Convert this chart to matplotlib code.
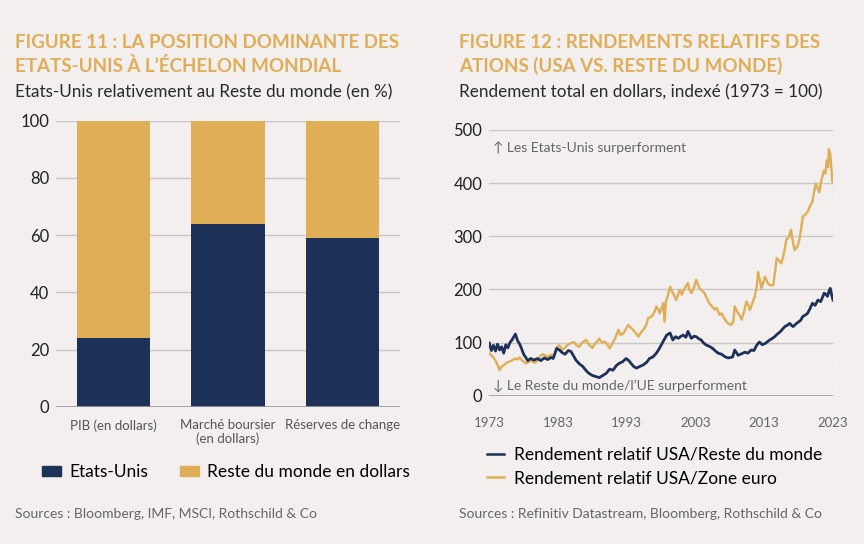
import matplotlib
matplotlib.use("Agg")
import matplotlib.pyplot as plt
from matplotlib.patches import Patch
from matplotlib.lines import Line2D

plt.rcParams['font.family'] = ['Lato', 'DejaVu Sans']

BG = '#F2EFEE'
NAVY = '#1E3159'
GOLD = '#DFAE57'
GRID = '#C9C6C5'

# Figure 11 data
categories = ['PIB (en dollars)', 'Marché boursier\n(en dollars)', 'Réserves de change']
usa_share = [24, 64, 59]
rest_share = [76, 36, 41]

# Figure 12 data
years_world = [1973.0, 1973.3, 1973.6, 1973.9, 1974.2, 1974.5, 1974.8, 1975.1, 1975.4, 1975.7,
               1976.0, 1976.3, 1976.8, 1977.1, 1977.5, 1978.0, 1978.6, 1979.0, 1979.5, 1980.0,
               1980.5, 1981.0, 1981.5, 1982.0, 1982.3, 1982.8, 1983.2, 1983.6, 1984.0, 1984.5,
               1984.9, 1985.3, 1985.6, 1986.1, 1986.6, 1987.1, 1987.5, 1988.0, 1988.5, 1989.0,
               1989.5, 1990.0, 1990.5, 1991.0, 1991.5, 1991.9, 1992.4, 1992.9, 1993.3, 1993.6,
               1994.0, 1994.4, 1994.9, 1995.4, 1995.9, 1996.3, 1996.8, 1997.3, 1997.7, 1998.0,
               1998.4, 1998.8, 1999.3, 1999.7, 2000.1, 2000.5, 2000.9, 2001.2, 2001.6, 2001.9,
               2002.4, 2002.8, 2003.1, 2003.5, 2003.8, 2004.2, 2004.6, 2005.0, 2005.5, 2005.9,
               2006.3, 2006.8, 2007.2, 2007.7, 2008.1, 2008.4, 2008.7, 2009.0, 2009.2, 2009.7,
               2010.2, 2010.6, 2011.1, 2011.5, 2011.9, 2012.3, 2012.7, 2013.1, 2013.5, 2013.8,
               2014.2, 2014.5, 2014.9, 2015.3, 2015.7, 2016.0, 2016.4, 2016.7, 2017.0, 2017.2,
               2017.6, 2018.0, 2018.3, 2018.6, 2019.0, 2019.3, 2019.7, 2020.0, 2020.4, 2020.8,
               2021.2, 2021.5, 2021.7, 2022.0, 2022.2, 2022.4, 2022.6, 2022.8, 2023.0]
usa_vs_world = [99, 85, 95, 84, 97, 86, 92, 80, 96, 90,
                100, 105, 116, 104, 95, 78, 66, 70, 67, 70,
                66, 71, 68, 72, 70, 89, 86, 81, 78, 85,
                83, 74, 67, 60, 55, 47, 42, 38, 36, 34,
                38, 42, 50, 48, 57, 61, 64, 70, 66, 61,
                55, 52, 55, 58, 63, 70, 73, 80, 88, 95,
                104, 114, 118, 105, 111, 108, 112, 114, 110, 121,
                108, 112, 111, 107, 105, 99, 95, 93, 89, 84,
                80, 78, 74, 71, 72, 73, 86, 80, 76, 79,
                82, 80, 86, 85, 95, 101, 96, 98, 102, 105,
                108, 111, 116, 120, 126, 130, 133, 136, 132, 130,
                135, 139, 142, 149, 152, 155, 165, 174, 170, 180,
                177, 186, 193, 190, 187, 196, 202, 190, 180]

years_euro = [1973.0, 1973.3, 1973.6, 1973.9, 1974.2, 1974.5, 1974.8, 1975.2, 1975.5, 1975.9,
              1976.4, 1976.8, 1977.1, 1977.4, 1977.8, 1978.3, 1978.7, 1979.0, 1979.3, 1979.7,
              1980.2, 1980.5, 1980.8, 1981.2, 1981.5, 1981.9, 1982.2, 1982.5, 1982.9, 1983.2,
              1983.6, 1984.0, 1984.4, 1984.9, 1985.3, 1985.7, 1986.1, 1986.5, 1987.1, 1987.5,
              1988.0, 1988.4, 1989.0, 1989.4, 1989.8, 1990.2, 1990.5, 1990.9, 1991.3, 1991.8,
              1992.1, 1992.5, 1992.9, 1993.2, 1993.6, 1993.9, 1994.3, 1994.7, 1995.0, 1995.4,
              1995.8, 1996.1, 1996.5, 1996.8, 1997.1, 1997.3, 1997.6, 1997.8, 1998.1, 1998.3,
              1998.5, 1998.7, 1998.9, 1999.3, 1999.7, 2000.0, 2000.2, 2000.5, 2000.7, 2001.0,
              2001.4, 2001.9, 2002.1, 2002.4, 2002.8, 2003.1, 2003.4, 2003.6, 2004.0, 2004.3,
              2004.7, 2005.0, 2005.4, 2005.8, 2006.1, 2006.5, 2006.8, 2007.2, 2007.5, 2007.9,
              2008.2, 2008.5, 2008.7, 2009.0, 2009.2, 2009.5, 2009.7, 2010.1, 2010.4, 2010.7,
              2010.9, 2011.3, 2011.6, 2011.9, 2012.1, 2012.4, 2012.6, 2012.9, 2013.1, 2013.5,
              2013.8, 2014.3, 2014.6, 2014.8, 2015.1, 2015.5, 2015.9, 2016.2, 2016.6, 2016.9,
              2017.1, 2017.4, 2017.8, 2018.1, 2018.4, 2018.6, 2018.9, 2019.3, 2019.7, 2020.0,
              2020.2, 2020.5, 2020.8, 2021.0, 2021.3, 2021.7, 2021.9, 2022.1, 2022.3, 2022.4,
              2022.6, 2022.7, 2022.9, 2023.0]
usa_vs_euro = [80, 76, 72, 66, 58, 48, 55, 58, 62, 64,
               67, 70, 68, 72, 66, 61, 63, 68, 64, 62,
               70, 76, 78, 75, 73, 77, 74, 80, 92, 95,
               86, 90, 96, 99, 101, 95, 92, 100, 105, 96,
               90, 98, 107, 100, 102, 96, 89, 98, 108, 124,
               114, 117, 126, 133, 128, 124, 118, 111, 118, 124,
               132, 146, 148, 152, 160, 168, 162, 155, 166, 174,
               139, 178, 185, 205, 193, 186, 180, 192, 199, 190,
               202, 212, 200, 193, 205, 218, 208, 202, 197, 193,
               182, 174, 168, 162, 165, 152, 155, 145, 139, 135,
               133, 140, 168, 160, 155, 150, 143, 160, 177, 170,
               161, 175, 186, 205, 233, 215, 202, 215, 224, 212,
               208, 208, 235, 259, 255, 249, 270, 293, 300, 312,
               295, 274, 280, 293, 318, 337, 340, 346, 358, 365,
               380, 399, 390, 383, 405, 424, 418, 443, 430, 464,
               455, 439, 403, 402]

fig = plt.figure(figsize=(8.64, 5.44), dpi=100, facecolor=BG)

# ---------- Figure 11 : stacked bars ----------
ax1 = fig.add_axes([56 / 864, 1 - 406.7 / 544, 344 / 864, 286 / 544], facecolor=BG)
x = range(len(categories))
ax1.bar(x, usa_share, width=0.64, color=NAVY, zorder=3, label='Etats-Unis')
ax1.bar(x, rest_share, bottom=usa_share, width=0.64, color=GOLD, zorder=3,
        label='Reste du monde en dollars')
ax1.set_xlim(-0.5, 2.5)
ax1.set_ylim(0, 100)
ax1.set_yticks([0, 20, 40, 60, 80, 100])
ax1.set_xticks(list(x))
ax1.set_xticklabels(categories, fontsize=9.5, color='#555555', linespacing=1.1)
ax1.yaxis.grid(True, color=GRID, linewidth=1, zorder=0)
ax1.axhline(0, color='#9A9797', linewidth=1.2, zorder=4)
ax1.tick_params(axis='y', length=0, pad=5, labelsize=12, labelcolor='#222222')
ax1.tick_params(axis='x', length=0, pad=9)
for s in ax1.spines.values():
    s.set_visible(False)

fig.legend(handles=[Patch(color=NAVY), Patch(color=GOLD)],
           labels=['Etats-Unis', 'Reste du monde en dollars'],
           loc='center', bbox_to_anchor=(226 / 864, 1 - 472 / 544), ncol=2,
           frameon=False, fontsize=12.5, handlelength=1.1, handleheight=0.55,
           handletextpad=0.5, columnspacing=1.8, borderpad=0)

# ---------- Figure 12 : relative returns ----------
ax2 = fig.add_axes([489.3 / 864, 1 - 395.7 / 544, 343.7 / 864, 265.7 / 544], facecolor=BG)
ax2.plot(years_euro, usa_vs_euro, color=GOLD, linewidth=1.7, zorder=3)
ax2.plot(years_world, usa_vs_world, color=NAVY, linewidth=2.0, zorder=4)
ax2.set_xlim(1973, 2023)
ax2.set_ylim(0, 500)
ax2.set_yticks([0, 100, 200, 300, 400, 500])
ax2.set_xticks([1973, 1983, 1993, 2003, 2013, 2023])
ax2.yaxis.grid(True, color=GRID, linewidth=1, zorder=0)
ax2.axhline(0, color='#9A9797', linewidth=1.2, zorder=2)
ax2.axvline(2023, color='#BDBABA', linewidth=0.9, linestyle=':', zorder=1)
ax2.tick_params(axis='y', length=0, pad=5, labelsize=12, labelcolor='#222222')
ax2.tick_params(axis='x', length=0, pad=15, labelsize=9.5, labelcolor='#666666')
for s in ax2.spines.values():
    s.set_visible(False)

ax2.text(1973.6, 467, '↑ Les Etats-Unis surperforment', fontsize=10, color='#666666',
         va='center', ha='left')
ax2.text(1973.6, 19, '↓ Le Reste du monde/l\u2019UE surperforment', fontsize=10,
         color='#666666', va='center', ha='left')

fig.legend(handles=[Line2D([], [], color=NAVY, linewidth=1.8),
                    Line2D([], [], color=GOLD, linewidth=1.8)],
           labels=['Rendement relatif USA/Reste du monde', 'Rendement relatif USA/Zone euro'],
           loc='upper left', bbox_to_anchor=(478 / 864, 1 - 438 / 544), ncol=1,
           frameon=False, fontsize=12.5, handlelength=1.0, handletextpad=0.6,
           labelspacing=0.45, borderpad=0)

# ---------- titles and sources ----------
title_kw = dict(fontsize=13.5, fontweight='bold', color=GOLD, va='baseline', ha='left')
fig.text(15 / 864, 1 - 48 / 544, 'FIGURE 11 : LA POSITION DOMINANTE DES', **title_kw)
fig.text(15 / 864, 1 - 72 / 544, 'ETATS-UNIS À L\u2019ÉCHELON MONDIAL', **title_kw)
fig.text(15 / 864, 1 - 97 / 544, 'Etats-Unis relativement au Reste du monde (en %)',
         fontsize=12.3, color='#2A2A2A', va='baseline', ha='left')

fig.text(459 / 864, 1 - 48 / 544, 'FIGURE 12 : RENDEMENTS RELATIFS DES', **title_kw)
fig.text(459 / 864, 1 - 72 / 544, 'ATIONS (USA VS. RESTE DU MONDE)', **title_kw)
fig.text(459 / 864, 1 - 97 / 544, 'Rendement total en dollars, indexé (1973 = 100)',
         fontsize=12.3, color='#2A2A2A', va='baseline', ha='left')

fig.text(15 / 864, 1 - 518 / 544, 'Sources : Bloomberg, IMF, MSCI, Rothschild & Co',
         fontsize=10, color='#666666', va='baseline', ha='left')
fig.text(459 / 864, 1 - 518 / 544, 'Sources : Refinitiv Datastream, Bloomberg, Rothschild & Co',
         fontsize=10, color='#666666', va='baseline', ha='left')

fig.savefig('out.png', dpi=100, facecolor=BG)
